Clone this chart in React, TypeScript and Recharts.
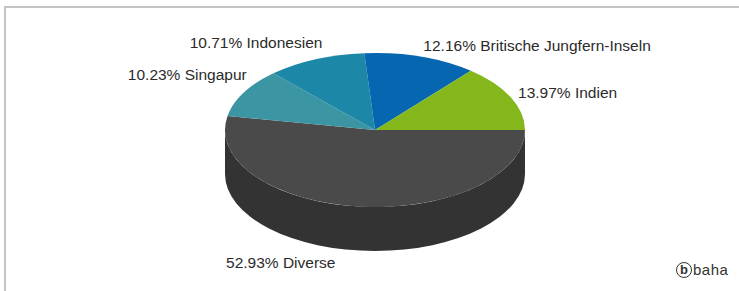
import React from 'react';
import { PieChart, Pie } from 'recharts';

const countries = ['Diverse', 'Singapur', 'Indonesien', 'Britische Jungfern-Inseln', 'Indien'];
const shares = [52.93, 10.23, 10.71, 12.16, 13.97];
const colors = ['#4a4a4a', '#3b95a3', '#1c87a6', '#0766b0', '#84b71c'];
const sideColors = ['#333333', '#2a6a74', '#145f75', '#05487b', '#5d8014'];

const chartData = countries.map((name, i) => ({ name, value: shares[i] }));

const ASPECT = 77 / 150; // vertical squash of the pie top
const DEPTH = 44;
const RAD = Math.PI / 180;

const fmt = (v: number) => `${v.toFixed(2)}%`;

// Draws one slice in fake 3D: side wall (front part only), elliptic top, and the text label
const Slice3D = (props: any) => {
  const { cx, cy, outerRadius, startAngle, endAngle, midAngle, index } = props;
  const rx = outerRadius;
  const ry = outerRadius * ASPECT;
  const pt = (a: number, dy = 0) => [cx + rx * Math.cos(a * RAD), cy - ry * Math.sin(a * RAD) + dy];

  const lo = Math.min(startAngle, endAngle);
  const hi = Math.max(startAngle, endAngle);

  // front half of the ellipse is 180..360 (mod 360)
  const sides: string[] = [];
  for (let n = -2; n <= 1; n++) {
    const p = Math.max(lo, 180 + 360 * n);
    const q = Math.min(hi, 360 + 360 * n);
    if (q - p > 0.01) {
      const [x1, y1] = pt(p);
      const [x2, y2] = pt(q);
      const [x3, y3] = pt(q, DEPTH);
      const [x4, y4] = pt(p, DEPTH);
      const large = q - p > 180 ? 1 : 0;
      sides.push(
        `M${x1},${y1} A${rx},${ry} 0 ${large} 0 ${x2},${y2} L${x3},${y3} A${rx},${ry} 0 ${large} 1 ${x4},${y4} Z`
      );
    }
  }

  const [sx, sy] = pt(startAngle);
  const [ex, ey] = pt(endAngle);
  const largeTop = hi - lo > 180 ? 1 : 0;
  const sweep = endAngle < startAngle ? 1 : 0;
  const top = `M${cx},${cy} L${sx},${sy} A${rx},${ry} 0 ${largeTop} ${sweep} ${ex},${ey} Z`;

  const c = Math.cos(midAngle * RAD);
  const s = Math.sin(midAngle * RAD);
  let lx = cx + (rx + 8) * c + (c < 0 ? 10 : 0);
  let ly = cy - (ry + 12) * s + (s < 0 ? DEPTH : 0);
  if (c < 0 && s > 0) ly -= 14 * Math.abs(c);
  if (s < -0.7) lx -= 35;
  const anchor = c >= 0 ? 'start' : 'end';

  return (
    <g>
      {sides.map((d, i) => (
        <path key={i} d={d} fill={sideColors[index]} stroke="none" />
      ))}
      <path d={top} fill={colors[index]} stroke="none" />
      <text
        x={lx}
        y={ly}
        textAnchor={anchor}
        dominantBaseline="central"
        fontSize={15.5}
        fontFamily="'Liberation Sans', Arial, sans-serif"
        fill="#2b2b2b"
      >
        {`${fmt(shares[index])} ${countries[index]}`}
      </text>
    </g>
  );
};

export default function App() {
  return (
    <div style={{ position: 'fixed', left: 0, top: 0, width: 739, height: 291, background: '#fff', overflow: 'hidden' }}>
      <div
        style={{
          position: 'absolute',
          left: 4,
          top: 6,
          width: 800,
          height: 400,
          borderTop: '2px solid #c4c4c4',
          borderLeft: '2px solid #c4c4c4',
        }}
      />
      <div style={{ position: 'absolute', left: 0, top: 0 }}>
        <PieChart width={739} height={291} margin={{ top: 0, right: 0, bottom: 0, left: 0 }}>
          <Pie
            data={chartData}
            dataKey="value"
            nameKey="name"
            cx={375}
            cy={130}
            outerRadius={150}
            startAngle={0}
            endAngle={-360}
            fill="none"
            stroke="none"
            labelLine={false}
            label={Slice3D}
            isAnimationActive={false}
          />
        </PieChart>
      </div>
      <div
        style={{
          position: 'absolute',
          left: 676,
          top: 261,
          display: 'flex',
          alignItems: 'center',
          fontFamily: "'Liberation Sans', Arial, sans-serif",
          color: '#333',
        }}
      >
        <div
          style={{
            width: 14,
            height: 14,
            border: '1.5px solid #333',
            borderRadius: '50%',
            fontSize: 13,
            fontWeight: 'bold',
            lineHeight: '14px',
            textAlign: 'center',
          }}
        >
          b
        </div>
        <span style={{ fontSize: 15, marginLeft: 1, letterSpacing: 0.5 }}>baha</span>
      </div>
    </div>
  );
}
